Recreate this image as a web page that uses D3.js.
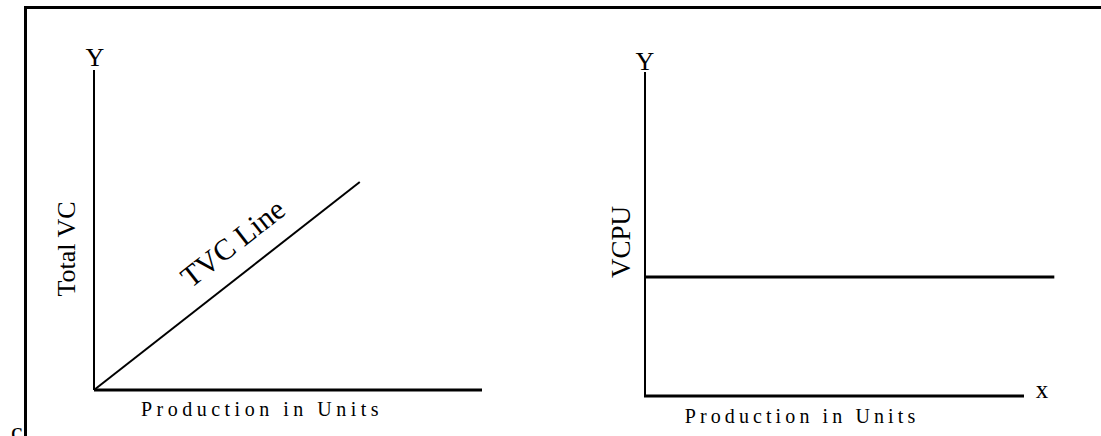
<!DOCTYPE html>
<html>
<head>
<meta charset="utf-8">
<script src="https://cdn.jsdelivr.net/npm/d3@7"></script>
<style>
  body { margin: 0; background: #fff; }
  text { font-family: "Liberation Serif", "Times New Roman", serif; fill: #000; }
</style>
</head>
<body>
<div id="chart"></div>
<script>
// ---- data ----
// left panel: total variable cost rises in a straight line from the origin
let tvcUnits = [0, 6.85];
let tvcValues = [0, 6.5];
// right panel: variable cost per unit stays constant
let vcpuUnits = [0, 10.8];
let vcpuValues = [3.67, 3.67];

let xLabel = "Production in Units";
let leftYLabel = "Total VC";
let rightYLabel = "VCPU";
let lineLabel = "TVC Line";

let width = 1101,
    height = 436;

let svg = d3.select("#chart").append("svg")
    .attr("width", width)
    .attr("height", height);

// outer frame (top and left edges only)
svg.append("path")
    .attr("d", `M25.5,${height} V7.5 H${width}`)
    .attr("fill", "none")
    .attr("stroke", "black")
    .attr("stroke-width", 3);

svg.append("text")
    .attr("x", 11)
    .attr("y", 440)
    .attr("font-size", 26)
    .text("c");

// ---- left panel ----
let xLeft = d3.scaleLinear().domain([0, 10]).range([94, 482]);
let yLeft = d3.scaleLinear().domain([0, 10]).range([390, 70]);

let left = svg.append("g");

left.append("line")
    .attr("x1", xLeft(0)).attr("x2", xLeft(0))
    .attr("y1", yLeft(0)).attr("y2", yLeft(10))
    .attr("stroke", "black").attr("stroke-width", 2);

left.append("line")
    .attr("x1", xLeft(0)).attr("x2", xLeft(10))
    .attr("y1", yLeft(0)).attr("y2", yLeft(0))
    .attr("stroke", "black").attr("stroke-width", 3);

let tvcLine = d3.line()
    .x(d => xLeft(d[0]))
    .y(d => yLeft(d[1]));

left.append("path")
    .datum(d3.zip(tvcUnits, tvcValues))
    .attr("d", tvcLine)
    .attr("fill", "none")
    .attr("stroke", "black")
    .attr("stroke-width", 2);

// label along the line
let angle = Math.atan2(yLeft(tvcValues[1]) - yLeft(tvcValues[0]), xLeft(tvcUnits[1]) - xLeft(tvcUnits[0])) * 180 / Math.PI;
left.append("text")
    .attr("transform", `translate(239,251) rotate(${angle})`)
    .attr("text-anchor", "middle")
    .attr("font-size", 30)
    .text(lineLabel);

left.append("text")
    .attr("x", xLeft(0) + 1)
    .attr("y", 66)
    .attr("text-anchor", "middle")
    .attr("font-size", 26)
    .text("Y");

left.append("text")
    .attr("transform", `translate(75,249) rotate(-90)`)
    .attr("text-anchor", "middle")
    .attr("font-size", 26)
    .text(leftYLabel);

left.append("text")
    .attr("x", 262)
    .attr("y", 416)
    .attr("text-anchor", "middle")
    .attr("font-size", 20)
    .attr("letter-spacing", 4.5)
    .text(xLabel);

// ---- right panel ----
let xRight = d3.scaleLinear().domain([0, 10]).range([645, 1024]);
let yRight = d3.scaleLinear().domain([0, 10]).range([396, 72]);

let right = svg.append("g");

right.append("line")
    .attr("x1", xRight(0)).attr("x2", xRight(0))
    .attr("y1", yRight(0)).attr("y2", yRight(10))
    .attr("stroke", "black").attr("stroke-width", 2);

right.append("line")
    .attr("x1", xRight(0) - 1).attr("x2", xRight(10))
    .attr("y1", yRight(0)).attr("y2", yRight(0))
    .attr("stroke", "black").attr("stroke-width", 3);

let vcpuLine = d3.line()
    .x(d => xRight(d[0]))
    .y(d => yRight(d[1]));

right.append("path")
    .datum(d3.zip(vcpuUnits, vcpuValues))
    .attr("d", vcpuLine)
    .attr("fill", "none")
    .attr("stroke", "black")
    .attr("stroke-width", 3);

right.append("text")
    .attr("x", xRight(0))
    .attr("y", 70)
    .attr("text-anchor", "middle")
    .attr("font-size", 26)
    .text("Y");

right.append("text")
    .attr("x", 1042)
    .attr("y", 398)
    .attr("text-anchor", "middle")
    .attr("font-size", 25)
    .text("x");

right.append("text")
    .attr("transform", `translate(630,242) rotate(-90)`)
    .attr("text-anchor", "middle")
    .attr("font-size", 27)
    .text(rightYLabel);

right.append("text")
    .attr("x", 802)
    .attr("y", 423)
    .attr("text-anchor", "middle")
    .attr("font-size", 20)
    .attr("letter-spacing", 4.1)
    .text(xLabel);
</script>
</body>
</html>
